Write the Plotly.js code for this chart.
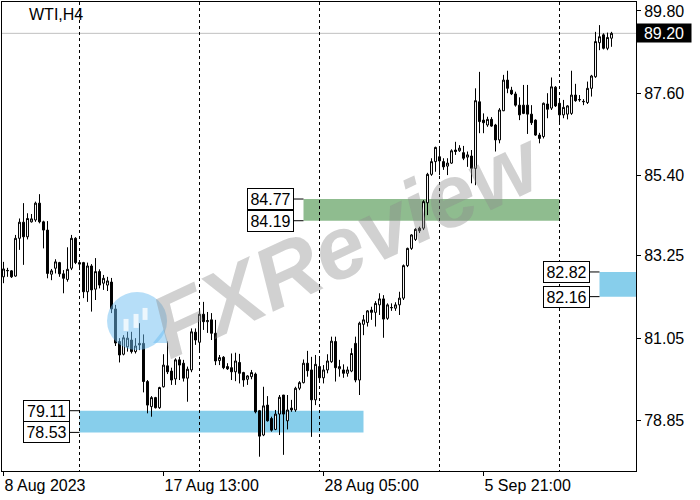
<!DOCTYPE html>
<html>
<head>
<meta charset="utf-8">
<script src="https://cdn.plot.ly/plotly-3.0.1.min.js"></script>
<style>html,body{margin:0;padding:0;background:#fff;}#chart{width:700px;height:500px;}</style>
</head>
<body>
<div id="chart"></div>
<script>
// ---------------- DATA ----------------
const symbolLabel = 'WTI,H4';
const opens = [82.69,82.85,82.85,82.71,83.72,84.15,83.76,84.16,84.21,84.66,84.16,83.94,82.76,82.92,83.07,82.77,82.62,82.92,83.72,83.07,
83.07,82.29,82.98,82.36,82.83,82.52,82.47,82.55,81.83,80.96,80.62,80.82,81.00,80.69,80.91,80.91,79.89,79.22,79.46,79.19,
79.75,80.31,80.17,79.96,80.47,80.38,79.98,80.20,81.21,80.94,81.69,81.49,81.54,81.18,80.45,80.54,80.29,80.26,80.15,80.40,
80.13,79.95,80.02,80.09,79.11,78.46,79.26,78.90,78.61,79.02,79.53,78.84,79.18,79.13,79.71,79.86,80.38,80.20,79.40,80.29,
79.99,80.20,80.42,80.96,80.23,80.20,80.11,80.17,80.91,79.93,81.42,81.47,81.80,81.74,81.94,82.10,81.58,81.86,81.85,81.94,
82.12,82.99,83.45,83.69,83.99,83.99,84.67,85.43,85.77,85.90,85.77,85.65,85.73,86.08,86.06,86.01,85.89,85.92,85.59,87.37,
86.88,86.75,86.90,86.75,86.35,87.13,87.95,87.68,87.58,87.28,87.28,87.28,87.04,86.88,86.48,86.44,87.31,87.20,87.76,87.33,
87.02,87.04,87.06,87.55,87.42,87.37,87.35,87.73,88.04,88.95,89.16,88.80,89.07];
const highs = [83.09,82.93,82.87,83.81,84.25,84.66,84.39,84.37,84.70,84.90,84.19,84.18,82.90,83.16,83.09,82.87,83.48,83.81,83.75,83.09,
83.09,83.07,83.03,83.19,82.89,82.74,82.69,82.66,81.94,81.05,81.13,81.22,81.22,81.05,81.45,81.15,79.93,79.50,79.48,79.75,
80.62,80.96,80.26,80.51,80.55,80.47,80.29,81.31,81.31,81.80,82.02,81.75,81.72,81.54,80.60,80.57,80.38,80.64,80.66,80.63,
80.15,80.06,80.20,80.13,79.13,79.75,79.50,78.95,79.13,79.53,79.53,79.53,79.40,79.75,79.90,80.48,80.71,80.55,80.60,80.53,
80.33,80.62,81.09,81.09,80.47,80.35,80.29,80.78,81.09,81.49,81.67,81.80,81.89,82.04,82.25,82.20,81.98,81.98,82.01,82.29,
83.02,83.47,83.83,83.99,84.03,84.74,85.47,85.86,86.17,86.13,85.86,85.86,86.10,86.30,86.21,86.19,86.04,86.08,87.73,88.17,
87.06,86.97,86.96,86.78,87.20,88.09,88.20,87.77,87.64,87.49,87.82,87.82,87.28,86.90,86.54,87.35,87.60,88.02,87.79,87.44,
87.42,87.28,88.20,87.85,87.55,87.44,87.91,88.09,89.24,89.42,89.20,89.22,89.24];
const lows = [82.52,82.69,82.66,82.69,83.41,83.01,83.69,84.14,84.16,84.12,83.45,82.65,82.60,82.78,82.69,82.25,82.56,82.87,83.03,82.87,
82.12,82.02,81.76,82.07,82.38,82.34,82.31,81.72,80.84,80.40,80.59,80.69,80.64,80.64,80.73,79.60,79.04,78.95,79.17,79.16,
79.73,80.09,79.80,79.80,79.93,79.89,79.35,80.14,80.87,80.69,81.27,81.19,81.00,80.33,80.33,80.22,80.20,79.93,79.90,79.84,
79.75,79.80,79.95,79.04,77.88,78.43,78.82,78.55,78.59,78.46,77.93,78.61,79.08,79.08,79.66,79.84,80.02,78.41,79.26,79.93,
79.84,80.11,80.39,79.89,80.02,79.99,80.02,80.14,79.87,79.53,81.13,81.36,81.54,81.36,81.67,81.06,81.54,81.78,81.78,81.67,
82.07,82.95,83.41,83.65,83.86,83.94,84.34,85.39,85.50,85.41,85.55,85.41,85.71,85.95,86.03,85.81,85.63,85.19,85.14,86.53,
86.53,86.70,86.70,86.04,86.26,87.12,87.60,87.55,87.24,86.88,87.04,86.51,86.75,86.46,86.26,86.39,86.93,87.15,87.23,86.78,
86.93,86.90,87.02,87.37,87.37,87.28,87.31,87.51,88.01,88.75,88.77,88.75,88.84];
const closes = [82.90,82.86,82.69,83.72,84.15,83.76,84.25,84.24,84.66,84.16,83.94,82.78,82.85,83.09,82.77,82.65,82.89,83.72,83.07,83.03,
82.29,82.98,82.34,82.83,82.47,82.65,82.58,81.83,80.92,80.60,81.06,81.05,80.69,80.84,80.87,79.89,79.26,79.46,79.19,79.73,
80.33,80.15,79.93,80.47,80.33,79.98,80.22,81.22,81.00,81.69,81.49,81.52,81.18,80.44,80.53,80.26,80.23,80.15,80.44,80.11,
79.93,80.04,80.13,79.08,78.43,79.24,78.84,78.59,79.02,79.47,79.02,79.13,79.13,79.71,79.86,80.38,80.18,79.40,80.35,79.99,
80.20,80.44,80.97,80.26,80.29,80.11,80.20,80.64,79.93,81.45,81.54,81.78,81.74,81.98,82.10,81.56,81.94,81.87,81.94,82.12,
82.99,83.45,83.81,83.96,83.92,84.70,85.43,85.77,86.15,85.79,85.63,85.73,86.06,86.04,86.13,85.86,85.95,85.59,87.40,86.84,
86.81,86.90,86.72,86.35,87.15,87.95,87.73,87.58,87.28,87.02,87.06,87.04,86.81,86.48,86.39,87.33,87.17,87.77,87.26,87.02,
87.22,87.26,87.55,87.40,87.43,87.38,87.73,88.06,88.98,89.11,88.80,89.09,89.20];

const timeLabelBars = [0, 40, 80, 120];
const timeLabels = ['8 Aug 2023', '17 Aug 13:00', '28 Aug 05:00', '5 Sep 21:00'];
const gridBars = [19, 49, 79, 109, 139];
const priceTicks = [78.85, 81.05, 83.25, 85.40, 87.60, 89.80];
const currentPrice = 89.20;

const zoneTops = [79.11, 84.77, 82.82];
const zoneBottoms = [78.53, 84.19, 82.16];
const zoneStartBars = [19, 75, 149];
const zoneEndBars = [90, 139, 160];

// ---------------- STYLE ----------------
const FONT = 'Liberation Sans, Arial, sans-serif';
const zoneColors = ['#87CEEB', '#8FBC8F', '#87CEEB'];

const bars = opens.map((_, i) => i);

const candles = {
  type: 'candlestick',
  x: bars, open: opens, high: highs, low: lows, close: closes,
  increasing: {line: {color: '#000', width: 1}, fillcolor: '#ffffff'},
  decreasing: {line: {color: '#000', width: 1}, fillcolor: '#000000'},
  whiskerwidth: 0,
  hoverinfo: 'skip',
  showlegend: false
};

const shapes = [];
const annotations = [];

zoneTops.forEach((top, k) => {
  shapes.push({
    type: 'rect', xref: 'x', yref: 'y',
    x0: zoneStartBars[k], x1: zoneEndBars[k], y0: zoneBottoms[k], y1: top,
    fillcolor: zoneColors[k], line: {width: 0}, layer: 'below'
  });
  [top, zoneBottoms[k]].forEach(p => {
    annotations.push({
      xref: 'x', yref: 'y', x: zoneStartBars[k], y: p,
      text: p.toFixed(2), showarrow: true, arrowhead: 0, arrowwidth: 1, arrowcolor: '#000',
      ax: -33.5, ay: 0, axref: 'pixel', ayref: 'pixel', standoff: 0,
      bgcolor: '#ffffff', bordercolor: '#000', borderwidth: 1, borderpad: 0,
      width: 45, height: 20,
      font: {family: FONT, size: 16, color: '#000'}
    });
  });
});

// current price line
shapes.push({
  type: 'line', xref: 'paper', x0: 0, x1: 1, yref: 'y', y0: currentPrice, y1: currentPrice,
  line: {color: '#c0c0c0', width: 1}, layer: 'below'
});

// watermark bubble (logo)
const bubble = {xref: 'paper', yref: 'paper', xsizemode: 'pixel', ysizemode: 'pixel',
  xanchor: 0.213, yanchor: 0.320, layer: 'above', line: {width: 0}};
shapes.push(Object.assign({type: 'circle', x0: -30, x1: 30, y0: -29, y1: 29,
  fillcolor: 'rgba(110,190,242,0.5)'}, bubble));
shapes.push(Object.assign({type: 'path', path: 'M 16,-22 L 31,-22 L 27,-8 Z',
  fillcolor: 'rgba(110,190,242,0.5)'}, bubble));
[[-11, -4, 12], [-1, 0, 14], [8, 7, 12]].forEach(c => {
  shapes.push(Object.assign({type: 'rect', x0: c[0] - 2.5, x1: c[0] + 2.5,
    y0: c[1] - c[2] / 2, y1: c[1] + c[2] / 2, fillcolor: 'rgba(255,255,255,0.75)'}, bubble));
  shapes.push(Object.assign({type: 'line', x0: c[0], x1: c[0],
    y0: c[1] - c[2] / 2 - 4, y1: c[1] + c[2] / 2 + 4,
    line: {color: 'rgba(255,255,255,0.75)', width: 1}}, bubble));
});

annotations.push({
  xref: 'paper', yref: 'y', x: 1, y: currentPrice, xanchor: 'left', yanchor: 'middle',
  text: currentPrice.toFixed(2), showarrow: false, bgcolor: '#000', borderpad: 0,
  width: 54, height: 18, font: {family: FONT, size: 16, color: '#ffffff'}
});

annotations.push({
  xref: 'paper', yref: 'paper', x: 0.0394, y: 1, xanchor: 'left', yanchor: 'top', yshift: -2,
  text: symbolLabel, showarrow: false, font: {family: FONT, size: 16, color: '#000'}
});

annotations.push({
  xref: 'paper', yref: 'paper', x: 0.545, y: 0.485, xanchor: 'center', yanchor: 'middle',
  text: 'FXReview', showarrow: false, textangle: -25,
  font: {family: FONT, size: 88, color: 'rgba(140,140,140,0.4)', weight: 'bold', style: 'italic'}
});

const layout = {
  width: 700, height: 500,
  margin: {l: 2, r: 64, t: 2, b: 29, pad: 0},
  paper_bgcolor: '#ffffff', plot_bgcolor: '#ffffff',
  showlegend: false,
  font: {family: FONT, size: 16, color: '#000'},
  xaxis: {
    type: 'linear', range: [-0.375, 158.125], rangeslider: {visible: false},
    showline: true, mirror: true, linecolor: '#000', linewidth: 1,
    zeroline: false, showgrid: false,
    tickmode: 'array', tickvals: timeLabelBars, ticktext: timeLabels,
    ticks: 'outside', ticklen: 4, tickcolor: '#000', ticklabelposition: 'outside right',
    tickfont: {family: FONT, size: 16, color: '#000'},
    minor: {tickmode: 'array', tickvals: gridBars, showgrid: true, gridcolor: '#000',
            gridwidth: 1, griddash: '3px,3px', ticks: ''},
    fixedrange: true
  },
  yaxis: {
    side: 'right', range: [77.498, 90.038],
    showline: true, mirror: true, linecolor: '#000', linewidth: 1,
    zeroline: false, showgrid: false,
    tickmode: 'array', tickvals: priceTicks, tickformat: '.2f',
    ticks: 'outside', ticklen: 4, tickcolor: '#000',
    tickfont: {family: FONT, size: 16, color: '#000'},
    fixedrange: true
  },
  shapes: shapes,
  annotations: annotations
};

Plotly.newPlot('chart', [candles], layout, {displayModeBar: false, staticPlot: true});
</script>
</body>
</html>
